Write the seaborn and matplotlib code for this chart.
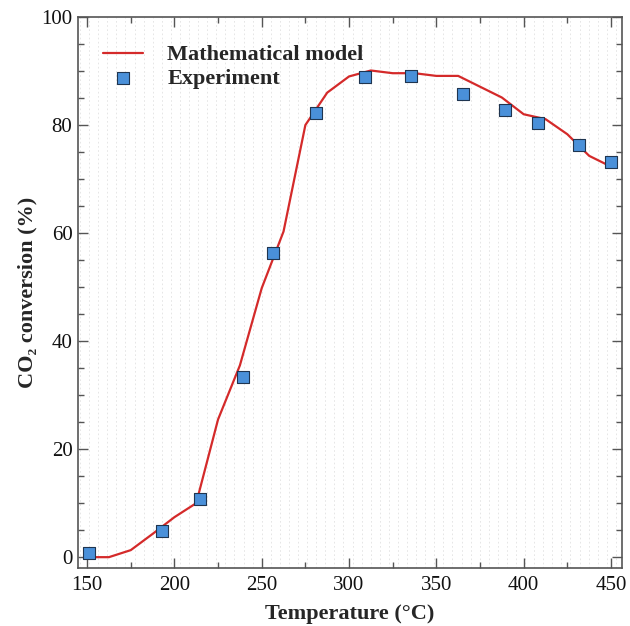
import numpy as np
import pandas as pd
import matplotlib
matplotlib.use("Agg")
import matplotlib.pyplot as plt
import seaborn as sns

# Data
model_T = [150, 162.5, 175, 187.5, 200, 212.5, 225, 237.5, 250, 262.5, 275, 287.5,
           300, 312.5, 325, 337.5, 350, 362.5, 375, 387.5, 400, 412.5, 425, 437.5, 450]
model_conv = [0, 0, 1.3, 4.3, 7.4, 10.0, 25.5, 35.5, 49.8, 60.3, 80.0, 86.0,
              89.0, 90.1, 89.6, 89.6, 89.1, 89.1, 87.1, 85.1, 82.0, 81.1, 78.3, 74.3, 72.3]
exp_T = [151.1, 192.9, 214.7, 239.0, 256.6, 280.8, 309.1, 335.5, 365.2, 389.3, 408.2, 431.6, 450.0]
exp_conv = [0.7, 4.8, 10.8, 33.3, 56.3, 82.2, 88.9, 89.1, 85.7, 82.7, 80.3, 76.4, 73.1]
x_ticks = [150, 200, 250, 300, 350, 400, 450]
y_ticks = [0, 20, 40, 60, 80, 100]

sns.set_theme(style="white")
plt.rcParams['font.family'] = ['Liberation Serif', 'DejaVu Serif']

df_model = pd.DataFrame({"T": model_T, "conv": model_conv})
df_exp = pd.DataFrame({"T": exp_T, "conv": exp_conv})

fig = plt.figure(figsize=(6.30, 6.26), dpi=100)
ax = fig.add_axes([0.1238, 0.0927, 0.8635, 0.8801])

# faint background texture lines
ax.vlines(np.arange(146, 457, 5.2), -2, 100, colors='#e2e2e2', linewidth=0.6,
          linestyles=(0, (2, 3)), zorder=0)

sns.lineplot(data=df_model, x="T", y="conv", ax=ax, color='#d42a2a', linewidth=1.6,
             label='Mathematical model', zorder=2)
sns.scatterplot(data=df_exp, x="T", y="conv", ax=ax, marker='s', s=70,
                color='#4a90d9', edgecolor='#1f3550', linewidth=0.8,
                label='Experiment', zorder=3)

ax.set_xlim(144.8, 456.3)
ax.set_ylim(-2, 100)
ax.set_xticks(x_ticks)
ax.set_yticks(y_ticks)
ax.set_xticks(np.arange(175, 450, 50), minor=True)
ax.set_yticks(np.arange(5, 100, 5), minor=True)

for s in ax.spines.values():
    s.set_color('#555555')
    s.set_linewidth(1.2)

ax.tick_params(axis='both', which='both', direction='in', top=True, bottom=True,
               left=True, right=True, color='#555555', width=1.0, labelsize=15,
               labelcolor='#111111', pad=4)
ax.tick_params(axis='x', which='major', pad=6)
ax.tick_params(axis='both', which='major', length=7)
ax.tick_params(axis='both', which='minor', length=4)

ax.set_xlabel('Temperature (°C)', fontsize=16, fontweight='bold', labelpad=6)
ax.set_ylabel('CO₂ conversion (%)', fontsize=16, fontweight='bold', labelpad=3)

leg = ax.legend(loc='upper left', bbox_to_anchor=(0.009, 0.986), frameon=False,
                prop={'weight': 'bold', 'size': 16}, handlelength=1.8,
                handletextpad=1.1, labelspacing=0.15)

fig.savefig('out.png', dpi=100)
